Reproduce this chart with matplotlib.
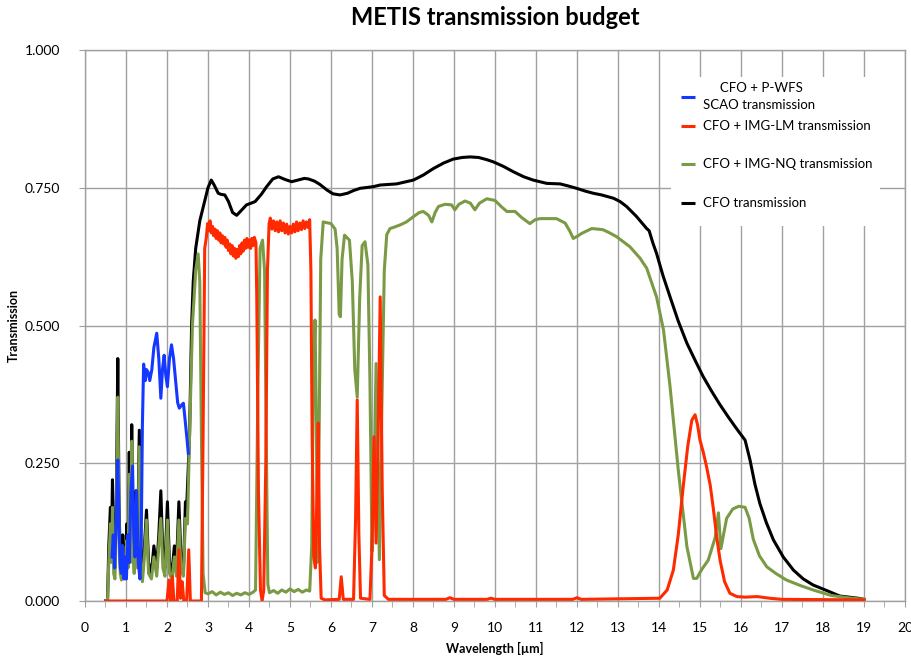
import matplotlib
matplotlib.use('Agg')
import matplotlib.pyplot as plt
from matplotlib.patches import Rectangle
from matplotlib.ticker import MultipleLocator, FormatStrFormatter

plt.rcParams['font.family'] = ['Lato', 'DejaVu Sans']

# CFO transmission (black)
cfo_wl = [0.50, 0.55, 0.58, 0.62, 0.645, 0.67, 0.70, 0.73, 0.76, 0.80, 0.83, 0.86, 0.89, 0.92,
          0.95, 0.98, 1.02, 1.05, 1.08, 1.11, 1.14, 1.17, 1.20, 1.24, 1.28, 1.325, 1.36, 1.40,
          1.45, 1.50, 1.55, 1.62, 1.68, 1.75, 1.80, 1.85, 1.90, 1.95, 2.01, 2.06, 2.12, 2.18,
          2.23, 2.29, 2.34, 2.40, 2.45, 2.48, 2.55, 2.60, 2.64, 2.70, 2.80, 2.90, 3.00, 3.08,
          3.15, 3.25, 3.32, 3.41, 3.50, 3.60, 3.70, 3.80, 3.94, 4.05, 4.15, 4.30, 4.43, 4.58,
          4.72, 4.88, 5.04, 5.20, 5.35, 5.45, 5.60, 5.73, 5.90, 6.05, 6.22, 6.40, 6.55, 6.71,
          7.03, 7.20, 7.60, 8.01, 8.25, 8.50, 8.75, 8.98, 9.20, 9.39, 9.60, 9.80, 9.96, 10.2,
          10.45, 10.7, 10.93, 11.26, 11.59, 11.8, 11.99, 12.2, 12.4, 12.6, 12.89, 13.05, 13.21,
          13.45, 13.70, 13.76, 13.85, 13.94, 14.1, 14.27, 14.47, 14.68, 14.88, 15.08, 15.29,
          15.49, 15.69, 15.89, 16.10, 16.22, 16.34, 16.46, 16.62, 16.79, 17.03, 17.28, 17.52,
          17.76, 18.09, 18.41, 18.86, 19.0]
cfo_t = [0.000, 0.000, 0.10, 0.17, 0.10, 0.22, 0.08, 0.06, 0.15, 0.44, 0.18, 0.07, 0.05, 0.12,
         0.06, 0.05, 0.14, 0.08, 0.27, 0.10, 0.32, 0.12, 0.07, 0.20, 0.09, 0.31, 0.10, 0.05,
         0.10, 0.165, 0.07, 0.05, 0.10, 0.06, 0.12, 0.20, 0.08, 0.06, 0.18, 0.07, 0.05, 0.10,
         0.06, 0.18, 0.08, 0.05, 0.18, 0.17, 0.30, 0.50, 0.58, 0.64, 0.69, 0.72, 0.75, 0.764,
         0.755, 0.740, 0.738, 0.737, 0.725, 0.705, 0.700, 0.708, 0.719, 0.722, 0.725, 0.738,
         0.752, 0.766, 0.770, 0.765, 0.761, 0.764, 0.767, 0.766, 0.762, 0.756, 0.746, 0.739,
         0.737, 0.740, 0.745, 0.749, 0.752, 0.755, 0.757, 0.764, 0.773, 0.785, 0.795, 0.802,
         0.805, 0.806, 0.805, 0.801, 0.797, 0.789, 0.779, 0.770, 0.764, 0.758, 0.757, 0.753,
         0.749, 0.744, 0.740, 0.737, 0.731, 0.725, 0.716, 0.698, 0.676, 0.672, 0.650, 0.631,
         0.590, 0.552, 0.508, 0.468, 0.437, 0.407, 0.380, 0.356, 0.334, 0.313, 0.292, 0.256,
         0.212, 0.177, 0.142, 0.111, 0.080, 0.056, 0.040, 0.029, 0.019, 0.009, 0.005, 0.003]

# CFO + IMG-NQ transmission (green)
nq_wl = [0.55, 0.58, 0.62, 0.645, 0.67, 0.70, 0.73, 0.76, 0.80, 0.83, 0.86, 0.89, 0.92, 0.95,
         0.98, 1.02, 1.05, 1.08, 1.11, 1.14, 1.17, 1.20, 1.24, 1.28, 1.325, 1.36, 1.40, 1.45,
         1.50, 1.55, 1.62, 1.68, 1.75, 1.80, 1.85, 1.90, 1.95, 2.01, 2.06, 2.12, 2.18, 2.23,
         2.29, 2.34, 2.40, 2.45, 2.50, 2.55, 2.62, 2.70, 2.76, 2.80, 2.84, 2.88, 2.93, 3.0,
         3.1, 3.2, 3.3, 3.4, 3.5, 3.6, 3.7, 3.8, 3.9, 4.0, 4.1, 4.16, 4.22, 4.27, 4.33, 4.38,
         4.42, 4.46, 4.50, 4.6, 4.7, 4.8, 4.9, 5.0, 5.1, 5.2, 5.3, 5.4, 5.48, 5.53, 5.57, 5.61,
         5.64, 5.67, 5.71, 5.75, 5.81, 6.0, 6.10, 6.15, 6.20, 6.23, 6.27, 6.33, 6.45, 6.52,
         6.58, 6.64, 6.70, 6.76, 6.83, 6.90, 6.95, 7.00, 7.05, 7.10, 7.14, 7.18, 7.24, 7.30,
         7.36, 7.44, 7.56, 7.70, 7.84, 8.00, 8.15, 8.25, 8.38, 8.46, 8.54, 8.62, 8.78, 8.94,
         9.02, 9.12, 9.27, 9.40, 9.51, 9.62, 9.80, 10.0, 10.15, 10.29, 10.49, 10.65, 10.85,
         10.98, 11.10, 11.50, 11.71, 11.82, 11.91, 12.01, 12.11, 12.36, 12.63, 12.80, 12.97,
         13.13, 13.29, 13.54, 13.70, 13.94, 14.11, 14.27, 14.47, 14.68, 14.84, 14.92, 15.05,
         15.20, 15.37, 15.45, 15.51, 15.65, 15.80, 15.95, 16.10, 16.20, 16.30, 16.45, 16.63,
         16.85, 17.11, 17.45, 17.76, 18.2, 18.6, 18.86, 19.0]
nq_t = [0.00, 0.07, 0.14, 0.07, 0.17, 0.05, 0.04, 0.12, 0.37, 0.15, 0.05, 0.038, 0.10, 0.045,
        0.04, 0.11, 0.06, 0.23, 0.07, 0.29, 0.09, 0.05, 0.17, 0.06, 0.28, 0.07, 0.035, 0.08,
        0.147, 0.05, 0.04, 0.08, 0.045, 0.10, 0.15, 0.06, 0.045, 0.147, 0.05, 0.04, 0.08,
        0.045, 0.147, 0.06, 0.045, 0.15, 0.14, 0.30, 0.50, 0.60, 0.63, 0.58, 0.30, 0.05,
        0.015, 0.013, 0.017, 0.011, 0.016, 0.012, 0.015, 0.010, 0.014, 0.011, 0.015, 0.012,
        0.016, 0.02, 0.40, 0.64, 0.655, 0.60, 0.30, 0.03, 0.015, 0.019, 0.014, 0.020, 0.016,
        0.022, 0.017, 0.021, 0.016, 0.020, 0.018, 0.10, 0.40, 0.51, 0.35, 0.07, 0.30, 0.62,
        0.688, 0.685, 0.675, 0.64, 0.52, 0.516, 0.62, 0.664, 0.655, 0.58, 0.42, 0.37, 0.55,
        0.645, 0.652, 0.61, 0.40, 0.09, 0.22, 0.431, 0.25, 0.075, 0.35, 0.60, 0.665, 0.676,
        0.679, 0.683, 0.688, 0.697, 0.705, 0.707, 0.700, 0.688, 0.705, 0.716, 0.720, 0.719,
        0.710, 0.720, 0.726, 0.722, 0.710, 0.722, 0.730, 0.727, 0.716, 0.707, 0.707, 0.696,
        0.685, 0.692, 0.694, 0.694, 0.686, 0.672, 0.658, 0.662, 0.667, 0.676, 0.674, 0.668,
        0.661, 0.652, 0.643, 0.622, 0.604, 0.552, 0.492, 0.389, 0.238, 0.099, 0.041, 0.041,
        0.058, 0.074, 0.115, 0.16, 0.095, 0.150, 0.167, 0.172, 0.170, 0.15, 0.112, 0.082,
        0.062, 0.050, 0.038, 0.028, 0.020, 0.010, 0.006, 0.004, 0.003]

# CFO + IMG-LM transmission (red)
lm_wl = [0.50, 2.00, 2.05, 2.09, 2.13, 2.17, 2.25, 2.29, 2.33, 2.37, 2.41, 2.48, 2.53, 2.57,
         2.84, 2.88, 2.92, 2.96, 2.99, 3.02, 3.05, 3.08, 3.11, 3.14, 3.17, 3.20, 3.23, 3.26,
         3.29, 3.32, 3.35, 3.38, 3.41, 3.44, 3.47, 3.50, 3.53, 3.56, 3.59, 3.62, 3.65, 3.68,
         3.71, 3.74, 3.77, 3.80, 3.83, 3.86, 3.89, 3.92, 3.95, 3.98, 4.01, 4.04, 4.07, 4.10,
         4.13, 4.17, 4.19, 4.23, 4.28, 4.32, 4.36, 4.41, 4.45, 4.49, 4.52, 4.56, 4.60, 4.64,
         4.68, 4.72, 4.76, 4.80, 4.84, 4.88, 4.92, 4.96, 5.00, 5.04, 5.08, 5.12, 5.16, 5.20,
         5.24, 5.28, 5.32, 5.36, 5.40, 5.44, 5.48, 5.51, 5.54, 5.58, 5.62, 5.66, 5.69, 5.72,
         5.76, 5.85, 6.20, 6.25, 6.30, 6.55, 6.60, 6.64, 6.68, 6.72, 6.95, 7.00, 7.05, 7.10,
         7.15, 7.20, 7.25, 7.30, 7.40, 8.8, 8.9, 9.0, 9.8, 9.9, 10.0, 11.9, 12.0, 12.1, 14.02,
         14.2, 14.35, 14.47, 14.59, 14.70, 14.80, 14.88, 14.94, 15.00, 15.08, 15.16, 15.25,
         15.33, 15.41, 15.49, 15.60, 15.73, 15.9, 16.1, 16.4, 16.7, 17.0, 19.0]
lm_t = [0.000, 0.000, 0.038, 0.000, 0.045, 0.000, 0.000, 0.093, 0.005, 0.035, 0.000, 0.000,
        0.093, 0.000, 0.000, 0.30, 0.64, 0.660, 0.685, 0.672, 0.690, 0.668, 0.680, 0.663,
        0.675, 0.658, 0.672, 0.655, 0.668, 0.650, 0.663, 0.648, 0.660, 0.642, 0.655, 0.636,
        0.648, 0.630, 0.645, 0.626, 0.640, 0.622, 0.638, 0.625, 0.645, 0.630, 0.650, 0.635,
        0.655, 0.640, 0.658, 0.642, 0.655, 0.640, 0.658, 0.645, 0.660, 0.650, 0.55, 0.20,
        0.02, 0.00, 0.02, 0.25, 0.60, 0.685, 0.695, 0.675, 0.690, 0.672, 0.688, 0.670, 0.690,
        0.672, 0.686, 0.668, 0.684, 0.666, 0.680, 0.668, 0.684, 0.670, 0.688, 0.672, 0.686,
        0.674, 0.690, 0.676, 0.688, 0.678, 0.692, 0.60, 0.30, 0.08, 0.06, 0.20, 0.323, 0.10,
        0.005, 0.002, 0.003, 0.044, 0.003, 0.003, 0.15, 0.365, 0.12, 0.005, 0.003, 0.10,
        0.298, 0.105, 0.30, 0.552, 0.20, 0.01, 0.003, 0.003, 0.006, 0.003, 0.003, 0.005,
        0.003, 0.003, 0.006, 0.003, 0.005, 0.02, 0.056, 0.12, 0.207, 0.28, 0.328, 0.338,
        0.32, 0.292, 0.27, 0.244, 0.21, 0.165, 0.115, 0.074, 0.035, 0.014, 0.008, 0.007,
        0.008, 0.005, 0.003, 0.002]

# CFO + P-WFS SCAO transmission (blue)
wfs_wl = [0.66, 0.69, 0.72, 0.76, 0.80, 0.83, 0.86, 0.89, 0.92, 0.95, 0.98, 1.01, 1.05, 1.08,
          1.12, 1.16, 1.19, 1.22, 1.26, 1.30, 1.34, 1.37, 1.40, 1.43, 1.47, 1.50, 1.54, 1.58,
          1.63, 1.68, 1.75, 1.80, 1.85, 1.89, 1.93, 1.97, 2.01, 2.06, 2.11, 2.16, 2.21, 2.26,
          2.30, 2.35, 2.40, 2.44, 2.48, 2.52]
wfs_t = [0.08, 0.12, 0.06, 0.14, 0.256, 0.14, 0.06, 0.05, 0.10, 0.04, 0.08, 0.04, 0.12, 0.07,
         0.20, 0.245, 0.12, 0.08, 0.20, 0.07, 0.04, 0.10, 0.32, 0.43, 0.40, 0.42, 0.415, 0.40,
         0.42, 0.46, 0.486, 0.44, 0.368, 0.42, 0.446, 0.41, 0.389, 0.44, 0.465, 0.44, 0.40,
         0.36, 0.35, 0.355, 0.359, 0.33, 0.30, 0.268]

series = [
    ('     CFO + P-WFS\nSCAO transmission', wfs_wl, wfs_t, '#1438ff', 4),
    ('CFO + IMG-LM transmission', lm_wl, lm_t, '#ff2a00', 3),
    ('CFO + IMG-NQ transmission', nq_wl, nq_t, '#7a9a45', 2),
    ('CFO transmission', cfo_wl, cfo_t, '#000000', 1),
]

fig = plt.figure(figsize=(9.12, 6.6), dpi=100)
ax = fig.add_axes([0.0932, 0.0894, 0.8991, 0.8348])

for label, wl, t, color, z in series:
    ax.plot(wl, t, color=color, lw=2.2, zorder=z, solid_joinstyle='round')

ax.set_xlim(0, 20)
ax.set_ylim(0, 1)
ax.xaxis.set_major_locator(MultipleLocator(1))
ax.xaxis.set_minor_locator(MultipleLocator(0.5))
ax.yaxis.set_major_locator(MultipleLocator(0.25))
ax.yaxis.set_major_formatter(FormatStrFormatter('%.3f'))

grid_col = '#a0a0a0'
ax.grid(True, which='major', color=grid_col, lw=1.0, zorder=0)
ax.set_axisbelow(True)
for sp in ax.spines.values():
    sp.set_color(grid_col)
    sp.set_linewidth(1.0)
ax.tick_params(axis='x', which='both', direction='out', length=4, color=grid_col,
               labelsize=10, pad=11)
ax.tick_params(axis='y', which='major', direction='out', length=4, color=grid_col,
               labelsize=10, pad=14)

ax.set_title('METIS transmission budget', fontsize=17, fontweight='bold', pad=18)
ax.set_xlabel('Wavelength [\u00b5m]', fontsize=9, fontweight='bold', labelpad=6)
ax.set_ylabel('Transmission', fontsize=9, fontweight='bold', labelpad=3)

# legend drawn by hand, Excel style (white box over the grid, no frame)
ax.add_patch(Rectangle((0.715, 0.681), 0.255, 0.27, transform=ax.transAxes,
                       facecolor='white', edgecolor='none', zorder=5))
legend_y = [0.9153, 0.8626, 0.7931, 0.7229]
for (label, wl, t, color, z), ly in zip(series, legend_y):
    ax.plot([0.7265, 0.744], [ly, ly], color=color, lw=2.2, transform=ax.transAxes,
            zorder=6, solid_capstyle='butt')
    ax.text(0.7533, ly, label, transform=ax.transAxes, va='center', ha='left',
            fontsize=9.5, zorder=7, linespacing=1.45)

plt.savefig('out.png', dpi=100)
plt.close()
